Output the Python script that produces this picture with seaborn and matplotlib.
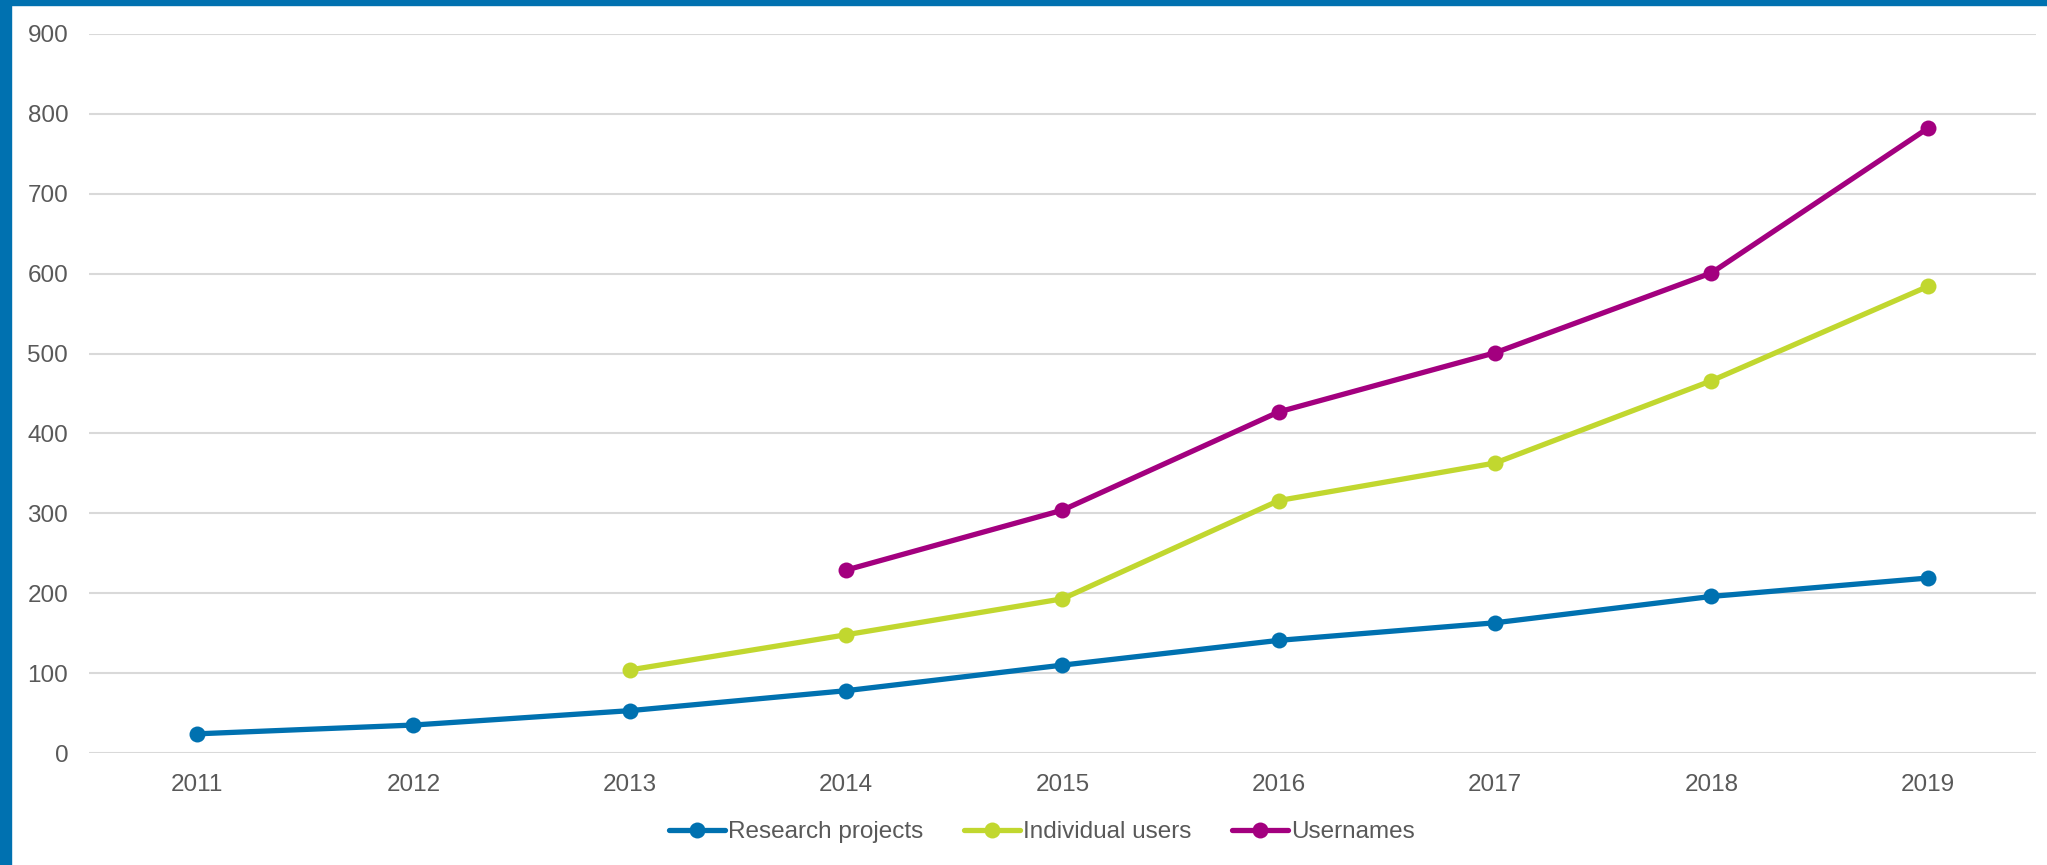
import matplotlib
matplotlib.use("Agg")
import matplotlib.pyplot as plt
import seaborn as sns
import pandas as pd
import numpy as np
from matplotlib.patches import Rectangle

years = [2011, 2012, 2013, 2014, 2015, 2016, 2017, 2018, 2019]
research_projects = [24, 35, 53, 78, 110, 141, 163, 196, 219]
individual_users = [np.nan, np.nan, 104, 148, 193, 316, 363, 466, 584]
usernames = [np.nan, np.nan, np.nan, 229, 304, 427, 501, 601, 782]
series_names = ["Research projects", "Individual users", "Usernames"]
colors = ["#0071B0", "#C1D72F", "#A3007F"]
y_ticks = [0, 100, 200, 300, 400, 500, 600, 700, 800, 900]

sns.set_theme(style="white")
plt.rcParams['font.family'] = ['Liberation Sans', 'DejaVu Sans']

df = pd.DataFrame({
    "year": years * 3,
    "value": research_projects + individual_users + usernames,
    "series": [series_names[0]] * 9 + [series_names[1]] * 9 + [series_names[2]] * 9,
}).dropna()

fig = plt.figure(figsize=(20.47, 8.65), dpi=100)
ax = fig.add_axes([89 / 2047, 1 - 753 / 865, (2036 - 89) / 2047, (753 - 34) / 865])

sns.lineplot(data=df, x="year", y="value", hue="series", hue_order=series_names,
             palette=colors, marker="o", markersize=11.5, markeredgewidth=0,
             linewidth=3.8, ax=ax, legend=True, zorder=3)

ax.set_xlim(2010.5, 2019.5)
ax.set_ylim(0, 900)
ax.set_xticks(years)
ax.set_xticklabels([str(y) for y in years])
ax.set_yticks(y_ticks)
ax.set_xlabel("")
ax.set_ylabel("")
for s in ax.spines.values():
    s.set_visible(False)
ax.yaxis.grid(True, color="#D9D9D9", linewidth=1.5, zorder=0)
ax.xaxis.grid(False)
ax.set_axisbelow(True)
ax.tick_params(axis="both", length=0, labelsize=17.5, colors="#595959")
ax.tick_params(axis="y", pad=15)
ax.tick_params(axis="x", pad=15)

handles, labels = ax.get_legend_handles_labels()
ax.legend_.remove()
leg = fig.legend(handles, labels, loc="center", bbox_to_anchor=(1042 / 2047, 1 - 832 / 865),
                 ncol=3, frameon=False, fontsize=17.5, handlelength=2.3,
                 handletextpad=0.15, columnspacing=1.65)
for t in leg.get_texts():
    t.set_color("#595959")

# blue frame
fig.patches.append(Rectangle((0, 1 - 5 / 865), 1, 5 / 865, transform=fig.transFigure,
                             color="#0071B0", zorder=10))
fig.patches.append(Rectangle((0, 0), 11 / 2047, 1, transform=fig.transFigure,
                             color="#0071B0", zorder=10))

fig.savefig("out.png", dpi=100)
